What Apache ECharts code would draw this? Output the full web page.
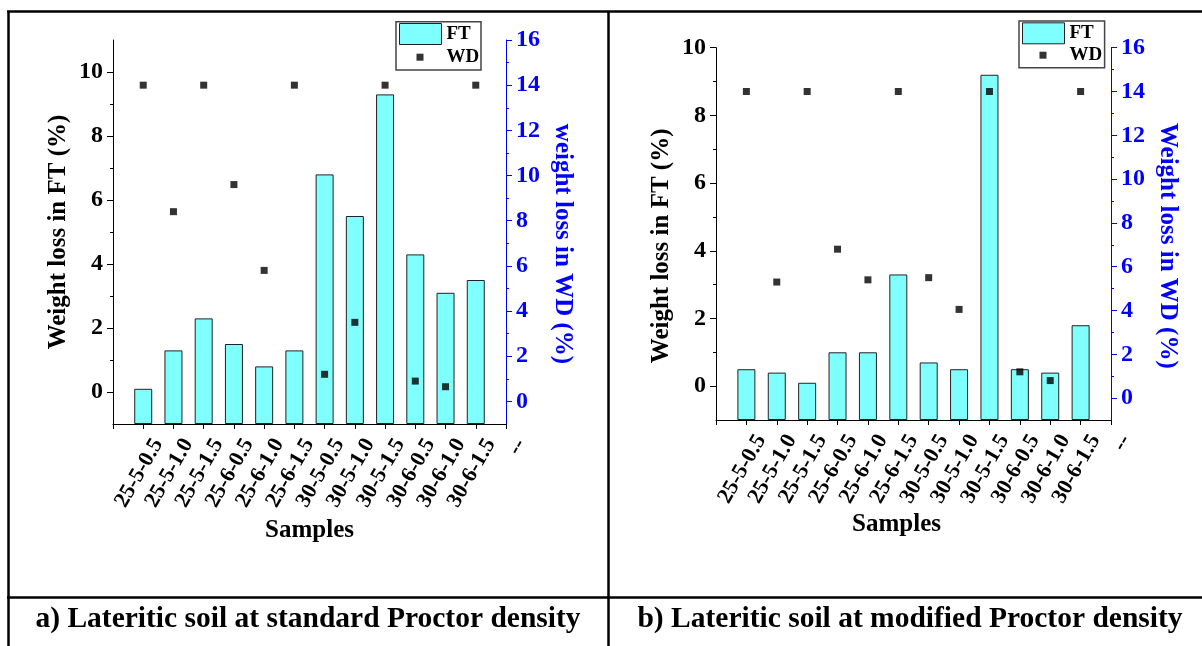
<!DOCTYPE html>
<html><head><meta charset="utf-8">
<script src="https://cdn.jsdelivr.net/npm/echarts@6/dist/echarts.min.js"></script>
<style>html,body{margin:0;padding:0;background:#fff}#c{width:1202px;height:646px}</style>
</head><body><div id="c"></div>
<script>
// ---- data ----
const samples = ['25-5-0.5','25-5-1.0','25-5-1.5','25-6-0.5','25-6-1.0','25-6-1.5','30-5-0.5','30-5-1.0','30-5-1.5','30-6-0.5','30-6-1.0','30-6-1.5'];
const xCategories = [''].concat(samples, ['--']);
const ftStandard = [0.1, 1.3, 2.3, 1.5, 0.8, 1.3, 6.8, 5.5, 9.3, 4.3, 3.1, 3.5];
const wdStandard = [14, 8.4, 14, 9.6, 5.8, 14, 1.2, 3.5, 14, 0.9, 0.65, 14];
const ftModified = [0.5, 0.4, 0.1, 1.0, 1.0, 3.3, 0.7, 0.5, 9.2, 0.5, 0.4, 1.8];
const wdModified = [14, 5.3, 14, 6.8, 5.4, 14, 5.5, 4.05, 14, 1.2, 0.8, 14];
const ftMajorTicks = [0, 2, 4, 6, 8, 10];
const ftMinorTicks = [1, 3, 5, 7, 9];
const wdMajorTicks = [0, 2, 4, 6, 8, 10, 12, 14, 16];
const wdMinorTicks = [1, 3, 5, 7, 9, 11, 13, 15];
const captions = ['a) Lateritic soil at standard Proctor density', 'b) Lateritic soil at modified Proctor density'];
const leftNames = ['Weight loss in FT (%)', 'Weight loss in FT (%)'];
const rightNames = ['weight loss in WD (%)', 'Weight loss in WD (%)'];
const xName = 'Samples';

// ---- styles ----
const FONT = '"Liberation Serif", "Times New Roman", serif';
const BLUE = '#0000FF';
const BAR = '#80FFFF';

const grids = [
  {left: 113, top: 40, width: 393, height: 384},
  {left: 716, top: 47.7, width: 395, height: 372.3}
];
const leftMax = [11, 10];

function xAxisFor(g, namePad, nameGap) {
  return {
    gridIndex: g, type: 'category', data: xCategories, boundaryGap: false,
    axisLine: {onZero: false, lineStyle: {color: '#000', width: 1}},
    axisTick: {show: true, interval: 0, length: 5, inside: false, lineStyle: {color: '#000', width: 1}},
    axisLabel: {interval: 0, rotate: 60, align: 'right', verticalAlign: 'top', margin: 8,
      padding: [6, 0, 0, 0],
      showMinLabel: true, showMaxLabel: true,
      fontFamily: FONT, fontWeight: 'bold', fontSize: 22, color: '#000'},
    splitLine: {show: false},
    name: xName, nameLocation: 'middle', nameGap: nameGap, nameMoveOverlap: false,
    nameTextStyle: {fontFamily: FONT, fontWeight: 'bold', fontSize: 25, color: '#000', padding: namePad}
  };
}
function yMain(g, pos, min, max, ticks, color, name, nameGap, nameRotate, namePad, startValue) {
  const o = {
    gridIndex: g, type: 'value', position: pos, min: min, max: max,
    axisLine: {show: true, onZero: false, lineStyle: {color: color, width: 1}},
    axisTick: {show: true, inside: false, length: 6, customValues: ticks, lineStyle: {color: color, width: 1}},
    axisLabel: {customValues: ticks, margin: 10, fontFamily: FONT, fontWeight: 'bold', fontSize: 24, color: color},
    splitLine: {show: false},
    name: name, nameLocation: 'middle', nameGap: nameGap, nameRotate: nameRotate, nameMoveOverlap: false,
    nameTextStyle: {fontFamily: FONT, fontWeight: 'bold', fontSize: 25, color: color, padding: namePad}
  };
  if (startValue !== undefined) o.startValue = startValue;
  return o;
}
function yMinor(g, pos, min, max, ticks, color) {
  return {
    gridIndex: g, type: 'value', position: pos, min: min, max: max,
    axisLine: {show: false},
    axisTick: {show: true, inside: false, length: 3, customValues: ticks, lineStyle: {color: color, width: 1}},
    axisLabel: {show: false},
    splitLine: {show: false}
  };
}

const xAxes = [xAxisFor(0, [0, 0, 0, 0], 94), xAxisFor(1, [0, 34, 0, 0], 92)];
const yAxes = [];
// grid 0 : indices 0..3 ; grid 1 : 4..7
for (let g = 0; g < 2; g++) {
  yAxes.push(yMain(g, 'left', -1, leftMax[g], ftMajorTicks, '#000', leftNames[g], 42, 90, g === 0 ? [0,0,0,0] : [0, 24, 0, 0], -1));
  yAxes.push(yMinor(g, 'left', -1, leftMax[g], ftMinorTicks, '#000'));
  yAxes.push(yMain(g, 'right', -1, 16, wdMajorTicks, BLUE, rightNames[g], 44, -90, [0, 0, 0, 24]));
  yAxes.push(yMinor(g, 'right', -1, 16, wdMinorTicks, BLUE));
}

const ftSets = [ftStandard, ftModified];
const wdSets = [wdStandard, wdModified];
const series = [];
for (let g = 0; g < 2; g++) {
  series.push({
    name: 'FT', type: 'bar', xAxisIndex: g, yAxisIndex: g * 4, barWidth: 18,
    itemStyle: {color: BAR, borderColor: '#222', borderWidth: 1},
    data: samples.map((s, i) => [s, ftSets[g][i]]),
    z: 2
  });
  series.push({
    name: 'WD', type: 'scatter', xAxisIndex: g, yAxisIndex: g * 4 + 2,
    symbol: 'rect', symbolSize: 7, itemStyle: {color: '#000'},
    data: samples.map((s, i) => [s, wdSets[g][i]]),
    z: 3
  });
}

const legendText = {fontFamily: FONT, fontWeight: 'bold', fontSize: 19, color: '#000'};
const legendPos = [
  {swL: 399, swT: 23, wdCx: 420, wdCy: 57.7, box: [396, 21.7, 85, 48.3]},
  {swL: 1022, swT: 22.3, wdCx: 1043, wdCy: 55.7, box: [1019, 21, 85.6, 46.7]}
];
const legends = [];
const graphics = [];
legendPos.forEach(p => {
  legends.push({
    data: ['FT'], left: p.swL, top: p.swT, padding: 0, itemWidth: 42, itemHeight: 21,
    icon: 'rect', itemStyle: {color: BAR, borderColor: '#222', borderWidth: 1},
    textStyle: legendText, selectedMode: false
  });
  legends.push({
    data: ['WD'], left: p.wdCx - 3.5, top: p.wdCy - 10, padding: 0, itemWidth: 7, itemHeight: 7,
    icon: 'rect', itemStyle: {color: '#000'},
    textStyle: Object.assign({}, legendText, {padding: [0, 0, 0, 18]}), selectedMode: false
  });
  graphics.push({type: 'rect', shape: {x: p.box[0], y: p.box[1], width: p.box[2], height: p.box[3]},
    style: {fill: 'none', stroke: '#444', lineWidth: 1.5}, z: 1});
});
// table borders
const lineStyle = {stroke: '#000', lineWidth: 2.5};
graphics.push({type: 'line', shape: {x1: 7, y1: 11.5, x2: 1202, y2: 11.5}, style: lineStyle});
graphics.push({type: 'line', shape: {x1: 8.5, y1: 11, x2: 8.5, y2: 646}, style: lineStyle});
graphics.push({type: 'line', shape: {x1: 608.5, y1: 11, x2: 608.5, y2: 646}, style: lineStyle});
graphics.push({type: 'line', shape: {x1: 7, y1: 597.5, x2: 1202, y2: 597.5}, style: lineStyle});
// captions
const capX = [308, 910];
captions.forEach((t, i) => {
  graphics.push({type: 'text', x: capX[i], y: 619,
    style: {text: t, font: 'bold 29.5px "Liberation Serif", "Times New Roman", serif', fill: '#000',
      textAlign: 'center', textVerticalAlign: 'middle', verticalAlign: 'middle'}});
});

const chart = echarts.init(document.getElementById('c'), null, {renderer: 'canvas'});
chart.setOption({
  backgroundColor: '#fff',
  animation: false,
  grid: grids,
  xAxis: xAxes,
  yAxis: yAxes,
  legend: legends,
  series: series,
  graphic: graphics
});
</script></body></html>
